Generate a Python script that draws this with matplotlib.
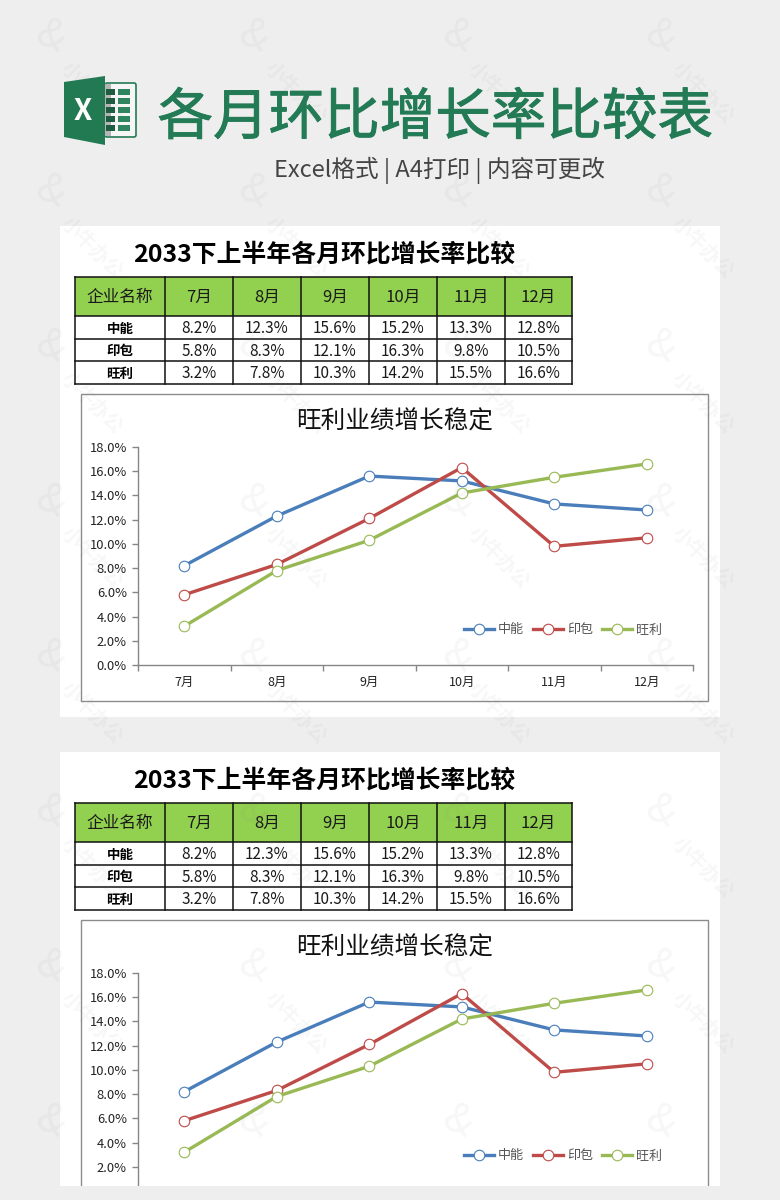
import matplotlib
matplotlib.use('Agg')
import matplotlib.pyplot as plt
import matplotlib.patheffects as pe
from matplotlib.patches import Rectangle, Polygon, FancyBboxPatch

plt.rcParams['font.family'] = ['Noto Sans CJK SC', 'DejaVu Sans']

# data
main_title = '各月环比增长率比较表'
sub_title = 'Excel格式 | A4打印 | 内容可更改'
section_title = '2033下上半年各月环比增长率比较'
chart_title = '旺利业绩增长稳定'
first_col = '企业名称'
months = ['7月', '8月', '9月', '10月', '11月', '12月']
companies = ['中能', '印包', '旺利']
zhongneng = [8.2, 12.3, 15.6, 15.2, 13.3, 12.8]
yinbao = [5.8, 8.3, 12.1, 16.3, 9.8, 10.5]
wangli = [3.2, 7.8, 10.3, 14.2, 15.5, 16.6]
y_ticks = [0, 2, 4, 6, 8, 10, 12, 14, 16, 18]

series = [zhongneng, yinbao, wangli]
colors = ['#4a7ebb', '#be4b48', '#98b954']

W, H = 780, 1200
GREEN = '#237b55'
col_edges = [75, 165, 233, 301, 369, 437, 505, 572]
row_edges = [277, 316, 339, 361, 384]

fig = plt.figure(figsize=(W / 100, H / 100), dpi=100, facecolor='#eeeeee')

# background layer in pixel coordinates
bg = fig.add_axes([0, 0, 1, 1], zorder=0)
bg.set_xlim(0, W)
bg.set_ylim(H, 0)
bg.axis('off')

# excel icon
bg.add_patch(FancyBboxPatch((105, 83), 31, 54, boxstyle='round,pad=0,rounding_size=2',
                            fc='#f6f6f6', ec=GREEN, lw=1.2))
bg.add_patch(Rectangle((105, 84), 6, 52, fc='#b5b5b5', ec='none'))
for row in range(5):
    y = 89 + row * 8.9
    bg.add_patch(Rectangle((106, y), 9, 6.4, fc='#1d5c40', ec='none'))
    bg.add_patch(Rectangle((118, y), 12, 6.4, fc='#2f8560', ec='none'))
bg.add_patch(Polygon([(64, 82), (105, 76), (105, 145), (64, 137)], fc='#217a52', ec='none'))
bg.text(83, 111, 'X', color='white', fontsize=21, fontweight='bold', ha='center', va='center')

t = bg.text(435, 118.5, main_title, color=GREEN, fontsize=40, ha='center', va='center')
t.set_path_effects([pe.withStroke(linewidth=0.7, foreground=GREEN)])
bg.text(439.5, 170, sub_title, color='#444444', fontsize=17, ha='center', va='center')


def draw_sheet(offset, panel_bottom, show_bottom=True):
    bg.add_patch(Rectangle((60, 226 + offset), 660, panel_bottom - 226 - offset, fc='white', ec='none'))
    bg.text(324, 255 + offset, section_title, color='black', fontsize=17.9, fontweight='bold',
            ha='center', va='center')

    # table
    top = row_edges[0] + offset
    bg.add_patch(Rectangle((col_edges[0], top), col_edges[-1] - col_edges[0], row_edges[1] - row_edges[0],
                           fc='#92d050', ec='none'))
    for x in col_edges:
        bg.plot([x, x], [top, row_edges[-1] + offset], color='#111111', lw=1.1, solid_capstyle='projecting')
    for y in row_edges:
        bg.plot([col_edges[0], col_edges[-1]], [y + offset, y + offset], color='#111111', lw=1.1,
                solid_capstyle='projecting')

    header = [first_col] + months
    y = (row_edges[0] + row_edges[1]) / 2 + offset
    for i, label in enumerate(header):
        bg.text((col_edges[i] + col_edges[i + 1]) / 2, y + 1, label, fontsize=12, color='#1a1a1a',
                ha='center', va='center')
    for r, name in enumerate(companies):
        y = (row_edges[r + 1] + row_edges[r + 2]) / 2 + offset
        bg.text((col_edges[0] + col_edges[1]) / 2, y + 1, name, fontsize=9.7, fontweight='bold',
                color='black', ha='center', va='center')
        for c, v in enumerate(series[r]):
            bg.text((col_edges[c + 1] + col_edges[c + 2]) / 2, y + 1, f'{v:.1f}%', fontsize=11,
                    color='#1a1a1a', ha='center', va='center')

    # chart frame
    bg.add_patch(Rectangle((81, 394 + offset), 627, 307, fc='white', ec='#8c8c8c', lw=1))
    bg.text(395, 422 + offset, chart_title, color='#111111', fontsize=17.7, ha='center', va='center')

    ax = fig.add_axes([138 / W, (H - 665 - offset) / H, 555 / W, 218 / H], zorder=1)
    ax.patch.set_alpha(0)
    x = [i + 0.5 for i in range(len(months))]
    for values, name, color in zip(series, companies, colors):
        ax.plot(x, values, color=color, lw=2.4, marker='o', ms=7.6, mfc='white', mec=color, mew=0.8,
                label=name, clip_on=False)
    ax.set_xlim(0, 6)
    ax.set_ylim(0, 18)
    ax.set_yticks(y_ticks)
    # the second sheet is cut off below the 2.0% tick, so its lowest labels are not shown
    y_labels = [f'{v:.1f}%' if show_bottom or v > 0 else '' for v in y_ticks]
    ax.set_yticklabels(y_labels, fontsize=9.3, color='#222222')
    ax.set_xticks(range(7))
    ax.set_xticklabels([])
    if show_bottom:
        ax.set_xticks(x, minor=True)
        ax.set_xticklabels(months, minor=True, fontsize=9, color='#222222')
    ax.tick_params(axis='x', which='minor', length=0, pad=8)
    ax.tick_params(axis='x', which='major', length=4, width=1, color='#868686')
    ax.tick_params(axis='y', length=4, width=1, color='#868686', pad=4)
    for side in ['top', 'right']:
        ax.spines[side].set_visible(False)
    for side in ['left', 'bottom']:
        ax.spines[side].set_color('#868686')
        ax.spines[side].set_linewidth(1)
    leg = ax.legend(loc='center', bbox_to_anchor=(563 / W, (H - 630 - offset) / H),
                    bbox_transform=fig.transFigure, ncol=3, frameon=False, prop={'size': 9.4},
                    handlelength=2.3, handletextpad=0.35, columnspacing=0.65, borderpad=0, borderaxespad=0)
    for text in leg.get_texts():
        text.set_color('#555555')


draw_sheet(0, 717)
draw_sheet(526, 1186, show_bottom=False)

# top layer: strip that cuts off the second sheet, and the watermark
top = fig.add_axes([0, 0, 1, 1], zorder=5)
top.set_xlim(0, W)
top.set_ylim(H, 0)
top.axis('off')
top.add_patch(Rectangle((0, 1186), W, 14, fc='#eeeeee', ec='none'))
for row in range(8):
    for col in range(4):
        lx = 50 + col * 203.5
        ly = 37 + row * 155
        top.text(lx, ly, '&', fontsize=30, color='#777777', alpha=0.06, rotation=-25,
                 ha='center', va='center')
        if ly + 70 < 1186:
            top.text(lx + 42, ly + 56, '小牛办公', fontsize=14, fontweight='bold', color='#777777', alpha=0.06,
                     rotation=-45, ha='center', va='center', rotation_mode='anchor')

fig.savefig('out.png', dpi=100, facecolor=fig.get_facecolor())
